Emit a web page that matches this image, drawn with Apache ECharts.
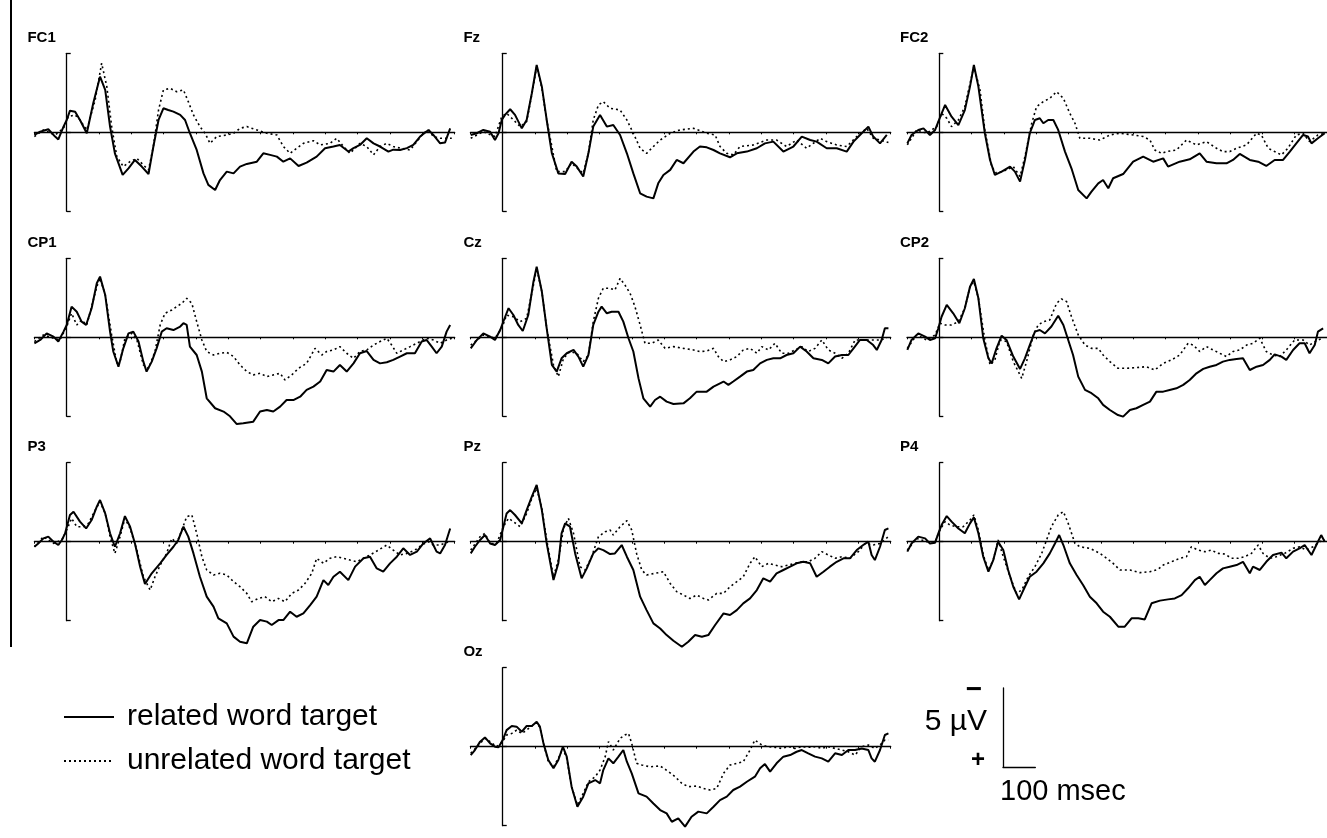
<!DOCTYPE html>
<html>
<head>
<meta charset="utf-8">
<title>ERP waveforms</title>
<script src="https://cdn.jsdelivr.net/npm/echarts@6/dist/echarts.min.js"></script>
<style>
  html, body { margin: 0; padding: 0; background: #fff; }
  #chart { width: 1327px; height: 838px; }
</style>
</head>
<body>
<div id="chart"></div>
<script>
// time in ms, amplitude in µV (negative plotted up)
const TIME_MIN = -100
const TIME_MAX = 1200
const TIME_TICK = 100
const UV_LIMIT = 5

const channels = ['FC1', 'Fz', 'FC2', 'CP1', 'Cz', 'CP2', 'P3', 'Pz', 'P4', 'Oz']
const conditions = ['related word target', 'unrelated word target']

const fc1Related = [[-100,0.17],[-82,-0.04],[-57,-0.19],[-36,0.27],[-26,0.45],[-10,-0.36],[0,-0.78],[10,-1.37],[26,-1.3],[41,-0.78],[62,0.06],[82,-1.84],[103,-3.52],[108,-3.63],[119,-2.68],[134,-0.36],[149,1.33],[173,2.7],[191,2.28],[211,1.75],[232,2.17],[253,2.64],[268,0.9],[284,-0.78],[299,-1.52],[314,-1.41],[330,-1.31],[351,-1.1],[366,-0.78],[381,0.06],[402,1.12],[423,2.6],[438,3.33],[459,3.65],[474,3.02],[495,2.49],[516,2.6],[536,2.17],[557,2.0],[588,1.86],[608,1.33],[629,1.43],[650,1.54],[670,1.86],[691,1.65],[717,2.13],[742,1.92],[773,1.54],[799,1.01],[825,0.9],[845,0.8],[871,1.22],[887,1.0],[907,0.8],[928,0.38],[949,0.7],[969,0.9],[995,1.22],[1010,1.1],[1031,1.12],[1052,1.0],[1072,0.8],[1093,0.27],[1119,-0.15],[1134,0.17],[1155,0.7],[1170,0.65],[1186,-0.25]]
const fc1Unrelated = [[-100,0.27],[-72,-0.15],[-36,0.17],[-10,-0.25],[5,-1.0],[26,-1.1],[41,-0.78],[62,-0.15],[88,-2.05],[108,-4.37],[124,-2.89],[139,-0.36],[155,1.54],[175,2.17],[196,1.85],[217,1.65],[237,2.07],[253,2.38],[268,0.9],[284,-1.41],[299,-2.68],[320,-2.78],[340,-2.57],[361,-2.68],[376,-1.94],[392,-1.1],[412,-0.36],[428,0.06],[443,0.7],[464,0.27],[495,0.17],[516,0.06],[536,-0.25],[557,-0.36],[588,-0.15],[619,0.06],[650,0.17],[670,0.9],[691,1.33],[711,1.01],[732,0.7],[763,0.53],[784,0.8],[814,0.7],[835,0.38],[856,0.9],[876,1.33],[907,0.7],[928,0.9],[949,1.43],[969,0.9],[990,0.7],[1010,0.9],[1031,1.0],[1062,1.12],[1083,0.59],[1103,0.06],[1119,-0.15],[1134,0.27],[1155,0.38],[1175,0.38],[1191,0.38]]

const fzRelated = [[-99,0.17],[-80,0.06],[-60,-0.15],[-39,-0.04],[-24,0.49],[-13,0.06],[-3,-0.78],[7,-1.1],[23,-1.46],[38,-1.1],[59,-0.25],[74,-0.78],[90,-2.47],[105,-4.26],[121,-2.89],[136,-0.78],[152,1.33],[172,2.6],[193,2.64],[213,1.86],[229,2.17],[249,2.8],[265,1.33],[280,-0.36],[301,-1.1],[322,-0.36],[342,-0.46],[363,0.17],[384,1.33],[404,2.6],[425,3.86],[445,4.07],[466,4.18],[481,3.23],[497,2.7],[518,2.38],[538,1.75],[559,1.96],[590,1.22],[610,0.9],[631,0.95],[652,1.12],[672,1.33],[703,1.58],[724,1.33],[755,1.22],[786,1.01],[811,0.7],[837,0.59],[868,1.22],[899,0.9],[925,0.27],[951,0.49],[971,0.59],[1002,1.01],[1033,1.01],[1064,1.22],[1085,0.59],[1105,0.17],[1131,-0.36],[1146,0.27],[1167,0.7],[1188,0.17]]
const fzUnrelated = [[-99,0.38],[-60,-0.04],[-24,0.27],[-3,-1.0],[12,-1.2],[28,-0.89],[54,-0.36],[74,-0.68],[90,-2.4],[105,-4.16],[121,-2.8],[136,-0.78],[167,2.49],[193,2.49],[213,1.96],[249,2.6],[265,1.33],[280,-0.78],[296,-1.73],[311,-1.94],[332,-1.52],[363,-1.41],[384,-0.78],[404,0.06],[425,1.01],[445,1.33],[466,0.9],[487,0.49],[518,0.06],[548,-0.15],[590,-0.25],[631,0.06],[657,0.17],[672,0.9],[693,1.33],[713,1.43],[734,0.9],[775,0.8],[817,0.49],[847,0.49],[878,0.9],[909,0.49],[940,1.01],[982,0.38],[1002,0.59],[1033,0.8],[1064,0.9],[1095,0.27],[1126,-0.25],[1146,0.38],[1167,0.49],[1193,0.65]]

const fc2Related = [[-99,0.7],[-86,0.17],[-65,-0.15],[-49,-0.25],[-29,0.17],[-13,-0.15],[-3,-0.68],[18,-1.73],[38,-0.99],[59,-0.46],[79,-1.41],[95,-2.89],[107,-4.26],[121,-2.89],[141,0.06],[157,1.75],[172,2.7],[193,2.49],[219,2.17],[234,2.49],[250,3.12],[265,1.75],[280,0.06],[296,-0.78],[311,-0.89],[322,-0.57],[337,-0.78],[353,-0.78],[368,-0.15],[389,1.22],[409,2.28],[430,3.65],[456,4.18],[471,3.76],[492,3.23],[507,3.02],[523,3.54],[538,2.91],[569,2.64],[600,1.86],[631,1.54],[662,1.86],[693,1.65],[708,2.17],[744,1.86],[775,1.71],[806,1.33],[827,1.86],[858,1.96],[889,1.96],[909,1.75],[930,1.37],[961,1.75],[987,1.86],[1012,2.13],[1038,1.75],[1064,1.75],[1085,1.22],[1105,0.7],[1126,0.17],[1141,0.27],[1152,0.7],[1172,0.38],[1193,0.06]]
const fc2Unrelated = [[-99,0.8],[-70,-0.15],[-39,0.06],[-8,-0.36],[7,-1.2],[23,-0.89],[38,-0.36],[59,-0.78],[79,-1.62],[107,-4.16],[126,-2.68],[141,-0.15],[162,2.17],[177,2.6],[208,2.38],[229,2.17],[250,2.8],[265,1.54],[286,-0.57],[301,-1.62],[322,-1.94],[342,-2.15],[363,-2.57],[384,-2.15],[404,-1.2],[420,-0.57],[435,0.38],[466,0.38],[497,0.49],[528,0.17],[559,0.06],[600,0.17],[631,0.27],[652,0.49],[667,1.12],[688,1.33],[703,1.22],[734,1.12],[765,0.49],[796,0.8],[827,0.59],[858,1.01],[878,1.22],[899,1.22],[920,1.01],[951,0.8],[982,0.06],[997,0.17],[1018,1.01],[1038,1.22],[1059,1.43],[1079,1.01],[1105,0.17],[1126,0.06],[1146,0.59],[1172,0.17],[1193,0.06]]

const cp1Related = [[-100,0.38],[-82,0.17],[-62,-0.25],[-41,-0.04],[-26,0.27],[-10,-0.36],[0,-0.78],[15,-1.94],[31,-1.62],[46,-0.99],[60,-0.78],[77,-1.84],[93,-3.42],[103,-3.84],[119,-2.68],[134,-0.36],[144,0.9],[160,1.86],[175,0.7],[191,-0.25],[206,-0.36],[222,0.27],[237,1.54],[247,2.17],[263,1.54],[278,0.7],[294,-0.36],[309,-0.57],[330,-0.46],[351,-0.68],[361,-0.89],[371,-0.78],[381,0.59],[402,1.12],[418,2.17],[433,3.86],[459,4.49],[485,4.7],[505,5.0],[526,5.49],[546,5.44],[577,5.34],[598,4.7],[619,4.6],[639,4.7],[660,4.39],[680,3.97],[701,3.97],[722,3.76],[742,3.33],[763,3.12],[784,2.8],[804,2.07],[825,2.17],[845,1.75],[866,2.17],[887,1.65],[907,1.01],[928,0.87],[949,1.43],[969,1.65],[990,1.58],[1010,1.43],[1031,1.22],[1052,1.01],[1077,1.01],[1098,0.27],[1113,0.17],[1129,0.59],[1144,1.01],[1160,0.59],[1175,-0.36],[1186,-0.78]]
const cp1Unrelated = [[-100,0.27],[-72,-0.15],[-41,0.06],[-21,0.17],[0,-0.68],[15,-1.52],[31,-0.78],[46,-1.1],[62,-0.78],[93,-3.2],[103,-3.74],[119,-2.68],[139,-0.15],[155,1.65],[165,1.54],[180,0.06],[201,-0.25],[217,0.17],[237,1.75],[253,1.96],[273,0.9],[289,-0.78],[304,-1.52],[325,-1.73],[340,-1.94],[356,-2.15],[371,-2.47],[387,-2.15],[402,-0.99],[418,0.17],[433,0.9],[454,1.12],[474,1.01],[495,0.95],[516,1.22],[536,1.75],[557,2.17],[577,2.38],[598,2.28],[619,2.49],[639,2.38],[660,2.28],[675,2.7],[696,2.38],[717,1.96],[742,1.65],[768,0.7],[789,1.12],[804,0.9],[825,0.8],[845,0.59],[866,1.01],[887,1.33],[907,0.9],[928,0.8],[949,0.49],[969,0.27],[990,0.06],[1005,0.49],[1021,1.01],[1041,0.8],[1062,0.59],[1093,0.27],[1113,0.06],[1134,0.17],[1155,0.38],[1175,0.17],[1191,0.06]]

const czRelated = [[-99,0.7],[-80,0.17],[-60,-0.25],[-39,-0.04],[-24,0.17],[-8,-0.46],[2,-1.0],[18,-1.84],[33,-1.41],[48,-0.78],[62,-0.4],[79,-1.41],[95,-3.52],[105,-4.47],[121,-2.89],[136,-0.57],[152,1.75],[167,2.17],[182,1.33],[198,1.01],[219,0.8],[234,1.22],[249,1.86],[265,1.12],[280,-0.78],[296,-1.62],[306,-1.94],[322,-1.52],[337,-1.62],[358,-1.62],[373,-0.99],[389,0.06],[404,0.9],[420,2.6],[435,3.86],[456,4.39],[471,3.97],[487,3.76],[507,4.07],[528,4.22],[559,4.18],[579,3.86],[600,3.44],[631,3.44],[652,3.12],[683,2.8],[698,3.01],[713,2.8],[734,2.49],[755,2.17],[775,2.07],[796,1.65],[817,1.43],[837,1.33],[858,1.33],[878,1.12],[899,1.01],[920,0.59],[940,0.9],[961,1.33],[987,1.43],[1007,1.65],[1028,1.22],[1049,1.12],[1069,1.12],[1085,0.7],[1105,0.17],[1126,0.17],[1146,0.49],[1157,0.8],[1172,0.17],[1182,-0.57],[1193,-0.57]]
const czUnrelated = [[-99,0.49],[-60,-0.15],[-24,0.06],[-3,-0.57],[12,-1.41],[33,-1.3],[54,-0.99],[74,-1.2],[95,-3.31],[105,-4.37],[121,-2.89],[136,-0.57],[157,1.75],[172,2.49],[188,1.33],[208,0.9],[229,1.01],[249,1.54],[265,1.12],[280,-0.99],[296,-2.47],[311,-3.1],[332,-3.1],[347,-2.99],[363,-3.73],[378,-3.31],[394,-2.78],[409,-1.94],[425,-0.78],[440,0.38],[461,0.38],[481,0.17],[502,0.7],[528,0.59],[559,0.7],[590,0.8],[610,0.9],[631,0.87],[652,0.7],[667,1.22],[683,1.54],[703,1.43],[724,1.22],[744,0.8],[765,0.7],[786,1.01],[801,0.59],[822,0.8],[842,0.38],[863,1.01],[884,1.01],[904,0.8],[925,0.59],[945,0.9],[966,0.7],[987,0.17],[1007,0.8],[1028,1.01],[1049,1.33],[1069,1.01],[1090,0.17],[1121,0.17],[1146,0.17],[1167,0.17],[1188,0.06]]

const cp2Related = [[-99,0.8],[-86,0.17],[-65,-0.25],[-44,-0.04],[-29,0.17],[-13,0.06],[-3,-0.57],[7,-1.3],[23,-2.05],[43,-1.52],[62,-0.89],[79,-1.84],[95,-3.2],[107,-3.69],[121,-2.47],[136,0.06],[152,1.33],[162,1.65],[177,0.7],[193,-0.1],[208,0.17],[229,1.22],[250,2.0],[265,1.33],[280,0.49],[296,-0.36],[311,-0.46],[327,-0.25],[347,-0.68],[368,-1.37],[384,-0.78],[399,0.17],[414,1.12],[430,2.49],[451,3.33],[471,3.54],[492,3.86],[507,4.28],[528,4.6],[553,4.92],[569,5.02],[590,4.6],[610,4.49],[631,4.28],[652,4.07],[672,3.44],[693,3.44],[713,3.33],[734,3.23],[755,3.01],[775,2.7],[796,2.28],[817,2.0],[837,1.86],[858,1.75],[878,1.54],[899,1.43],[920,1.37],[940,1.33],[961,2.07],[982,1.86],[1002,1.75],[1023,1.43],[1038,1.08],[1059,1.22],[1074,1.43],[1095,0.8],[1115,0.38],[1131,0.38],[1146,1.01],[1162,0.49],[1172,-0.36],[1188,-0.57]]
const cp2Unrelated = [[-99,0.7],[-70,-0.15],[-39,0.17],[-13,-0.15],[2,-0.89],[18,-0.78],[38,-0.78],[59,-0.99],[79,-1.84],[95,-3.2],[107,-3.52],[121,-2.47],[141,0.17],[157,1.75],[172,1.43],[188,0.17],[208,0.27],[229,1.54],[255,2.6],[270,1.54],[291,-0.15],[306,-0.78],[322,-0.99],[342,-1.1],[363,-2.15],[378,-2.43],[394,-2.26],[409,-1.31],[430,-0.15],[451,0.49],[471,0.7],[492,0.7],[507,1.12],[528,1.54],[553,1.96],[579,1.96],[610,1.92],[641,1.86],[667,2.07],[693,1.65],[719,1.43],[744,1.12],[770,0.38],[786,0.49],[806,0.9],[827,0.59],[847,0.8],[868,1.01],[889,1.22],[909,0.9],[930,0.8],[951,0.49],[971,0.38],[992,0.06],[1012,0.9],[1033,1.12],[1054,1.22],[1074,0.8],[1100,0.17],[1126,0.17],[1146,0.49],[1172,0.17],[1188,0.06]]

const p3Related = [[-100,0.32],[-88,0.11],[-72,-0.21],[-57,-0.32],[-41,0.0],[-26,0.21],[-15,-0.11],[-5,-0.53],[10,-1.69],[21,-1.9],[41,-1.27],[60,-0.84],[77,-1.37],[93,-2.22],[103,-2.64],[119,-1.79],[134,-0.53],[149,0.32],[165,-0.53],[180,-1.62],[196,-0.95],[211,0.11],[227,1.58],[242,2.68],[263,2.0],[289,1.37],[309,0.84],[330,0.32],[345,-0.11],[361,-0.95],[376,-0.32],[392,0.74],[412,2.22],[433,3.48],[454,4.11],[469,4.85],[495,5.17],[516,6.01],[536,6.33],[557,6.43],[577,5.38],[598,4.96],[619,5.06],[634,5.27],[655,4.96],[670,4.96],[691,4.43],[711,4.75],[732,4.54],[753,4.01],[773,3.48],[794,2.43],[809,2.74],[825,2.22],[845,1.9],[871,2.43],[892,1.58],[918,1.05],[938,0.95],[959,1.69],[979,1.9],[1000,1.37],[1021,0.95],[1041,0.42],[1062,0.84],[1083,0.63],[1103,0.11],[1124,-0.21],[1134,0.21],[1144,0.63],[1155,0.74],[1170,0.21],[1186,-0.84]]
const p3Unrelated = [[-100,0.32],[-72,-0.32],[-41,0.11],[-15,-0.11],[0,-0.74],[15,-1.48],[31,-0.95],[52,-0.95],[67,-1.16],[88,-2.0],[103,-2.53],[119,-1.79],[134,-0.32],[149,0.74],[165,-0.32],[180,-1.48],[196,-0.84],[217,0.53],[237,2.22],[258,3.06],[273,2.22],[289,1.48],[309,0.74],[325,-0.21],[340,0.11],[356,-0.74],[371,-1.58],[387,-1.69],[402,-0.53],[418,0.95],[433,1.79],[454,2.11],[474,2.0],[495,2.11],[516,2.53],[536,2.85],[557,3.27],[572,3.8],[593,3.59],[613,3.48],[634,3.8],[655,3.59],[675,3.8],[696,3.27],[717,3.06],[737,2.64],[758,2.0],[773,1.05],[794,1.37],[814,1.05],[835,0.95],[856,1.05],[876,1.16],[897,1.27],[918,1.05],[938,0.84],[964,0.53],[990,0.21],[1010,0.53],[1031,0.84],[1052,0.74],[1077,0.53],[1098,0.21],[1119,0.0],[1134,0.21],[1155,0.21],[1181,0.0]]

const pzRelated = [[-99,0.74],[-86,0.32],[-70,-0.11],[-55,-0.42],[-39,0.11],[-24,0.21],[-8,-0.11],[2,-0.95],[12,-1.79],[23,-2.0],[38,-1.69],[59,-1.16],[74,-2.0],[90,-2.85],[105,-3.59],[121,-2.0],[136,0.11],[157,2.43],[172,1.37],[182,-0.53],[193,-1.16],[208,-0.95],[224,0.74],[244,2.32],[260,1.69],[280,0.74],[296,0.42],[311,0.53],[332,0.78],[347,0.74],[368,0.21],[384,0.95],[404,1.79],[425,3.48],[445,4.33],[466,5.17],[487,5.49],[507,5.91],[528,6.27],[554,6.65],[574,6.33],[595,5.91],[616,6.01],[636,5.91],[657,5.27],[683,4.54],[703,4.64],[724,4.33],[744,3.9],[765,3.59],[786,3.06],[806,2.32],[827,2.53],[847,2.0],[868,1.79],[889,1.58],[909,1.37],[930,1.27],[951,1.37],[971,2.22],[992,1.9],[1012,1.58],[1033,1.27],[1054,1.05],[1074,1.05],[1095,0.53],[1115,0.21],[1131,0.0],[1141,0.84],[1151,1.16],[1167,0.32],[1182,-0.74],[1193,-0.84]]
const pzUnrelated = [[-99,0.53],[-70,-0.32],[-55,-0.53],[-39,0.11],[-19,0.11],[2,-0.95],[18,-1.48],[33,-1.27],[54,-0.95],[74,-1.79],[90,-2.74],[105,-3.38],[121,-2.11],[136,-0.11],[157,2.22],[172,1.16],[188,-0.84],[203,-1.48],[219,-0.53],[239,1.58],[255,1.79],[275,0.95],[296,-0.32],[317,-0.63],[332,-0.74],[342,-0.42],[363,-0.95],[384,-1.33],[399,-0.74],[414,0.74],[430,1.79],[445,2.11],[471,2.0],[497,1.9],[518,2.64],[538,3.16],[559,3.38],[579,3.59],[600,3.38],[621,3.59],[636,3.69],[662,3.27],[683,3.27],[703,2.85],[724,2.53],[744,2.22],[765,1.37],[780,0.95],[801,1.58],[822,1.37],[842,1.48],[863,1.58],[884,1.48],[904,1.37],[925,1.27],[945,1.27],[966,1.05],[987,0.63],[1007,0.84],[1028,1.05],[1049,0.95],[1074,1.05],[1100,0.63],[1121,0.11],[1146,0.21],[1167,0.11],[1193,-0.32]]

const p4Related = [[-99,0.63],[-86,0.11],[-65,-0.32],[-44,-0.21],[-29,0.11],[-13,0.06],[-3,-0.53],[7,-1.05],[23,-1.62],[38,-1.27],[59,-0.84],[79,-0.53],[95,-1.16],[107,-1.54],[121,-0.53],[136,0.95],[152,1.9],[167,1.16],[182,0.0],[188,-0.11],[198,0.53],[213,1.79],[229,2.85],[247,3.65],[265,2.85],[280,2.22],[301,1.9],[322,1.37],[342,0.74],[358,0.11],[371,-0.42],[384,0.21],[404,1.37],[425,2.11],[445,2.74],[466,3.48],[487,3.9],[507,4.43],[528,4.75],[554,5.38],[574,5.38],[595,4.85],[616,4.85],[636,4.92],[657,3.9],[683,3.73],[708,3.65],[729,3.59],[750,3.38],[770,2.95],[791,2.43],[806,2.22],[822,2.74],[837,2.43],[858,2.0],[878,1.69],[899,1.58],[920,1.48],[940,1.27],[961,2.0],[971,1.58],[992,1.79],[1012,1.27],[1033,0.84],[1059,0.69],[1074,1.05],[1095,0.63],[1115,0.42],[1131,0.21],[1152,0.84],[1167,0.21],[1182,-0.42],[1193,0.0]]
const p4Unrelated = [[-99,0.53],[-70,-0.21],[-39,0.0],[-13,0.0],[2,-0.74],[18,-1.27],[33,-1.05],[54,-0.95],[74,-0.95],[95,-1.37],[107,-1.69],[121,-0.74],[136,0.84],[152,1.79],[167,1.16],[182,-0.11],[198,0.95],[219,2.22],[239,3.27],[255,3.06],[275,2.22],[296,1.58],[317,0.74],[332,-0.11],[347,-0.95],[368,-1.69],[384,-1.9],[399,-1.16],[420,0.11],[435,0.32],[466,0.42],[497,0.74],[518,1.05],[538,1.37],[559,1.79],[590,1.79],[621,1.96],[652,1.9],[677,1.75],[693,1.48],[719,1.27],[744,1.05],[765,0.95],[780,0.32],[801,0.53],[822,0.63],[842,0.53],[863,0.74],[884,0.78],[904,1.05],[925,1.05],[945,0.95],[966,0.74],[987,0.21],[1002,0.74],[1023,1.05],[1043,0.95],[1069,0.74],[1095,0.42],[1115,0.32],[1136,0.53],[1157,0.32],[1177,0.0],[1193,-0.11]]

const ozRelated = [[-99,0.53],[-86,0.21],[-70,-0.32],[-55,-0.59],[-39,-0.21],[-24,0.0],[-13,0.04],[0,-0.42],[12,-1.05],[28,-1.31],[43,-1.27],[59,-0.95],[74,-1.31],[90,-1.31],[105,-1.58],[115,-1.27],[126,-0.21],[141,0.84],[157,1.37],[172,0.84],[186,0.0],[198,0.63],[213,2.53],[231,3.8],[249,3.16],[265,2.32],[286,2.11],[301,2.32],[311,1.48],[327,0.74],[342,1.05],[358,0.63],[373,0.21],[384,0.95],[399,1.69],[420,2.95],[445,3.16],[466,3.59],[487,4.01],[507,4.22],[523,4.75],[543,4.54],[564,5.06],[584,4.43],[605,4.11],[631,4.22],[652,3.8],[672,3.38],[693,3.16],[713,2.74],[734,2.53],[755,2.22],[780,1.9],[796,1.37],[811,1.1],[827,1.58],[847,1.05],[868,0.63],[889,0.53],[909,0.32],[925,0.21],[945,0.42],[966,0.63],[987,0.74],[1007,0.95],[1028,0.42],[1049,0.53],[1069,0.21],[1090,0.21],[1110,0.11],[1131,0.21],[1141,0.74],[1151,0.95],[1167,0.21],[1182,-0.74],[1193,-0.84]]
const ozUnrelated = [[-99,0.42],[-70,-0.21],[-55,-0.53],[-39,-0.32],[-19,0.0],[0,-0.32],[12,-0.74],[28,-0.84],[43,-1.05],[59,-0.84],[74,-1.05],[90,-1.31],[105,-1.52],[115,-1.22],[126,-0.21],[141,0.95],[157,1.27],[172,0.74],[186,0.11],[198,0.74],[213,2.53],[231,3.69],[249,2.95],[265,2.22],[286,1.9],[301,1.48],[317,0.63],[327,-0.32],[342,0.21],[363,-0.53],[378,-0.74],[389,-0.84],[399,-0.21],[414,1.05],[430,1.16],[456,1.27],[487,1.22],[513,1.58],[533,1.9],[554,2.32],[574,2.53],[600,2.49],[621,2.64],[641,2.74],[662,2.64],[683,1.69],[703,1.16],[724,1.05],[744,0.95],[765,0.21],[780,-0.42],[801,-0.11],[822,0.0],[842,0.04],[863,0.11],[884,0.0],[904,0.11],[925,0.0],[945,0.04],[966,0.0],[987,0.11],[1007,0.0],[1028,0.11],[1049,0.21],[1069,0.32],[1090,0.53],[1110,0.0],[1131,-0.11],[1151,0.11],[1167,-0.11],[1182,-0.42],[1193,-0.42]]

const relatedData = [fc1Related, fzRelated, fc2Related, cp1Related, czRelated, cp2Related, p3Related, pzRelated, p4Related, ozRelated]
const unrelatedData = [fc1Unrelated, fzUnrelated, fc2Unrelated, cp1Unrelated, czUnrelated, cp2Unrelated, p3Unrelated, pzUnrelated, p4Unrelated, ozUnrelated]

// layout: [column, row] of each channel's panel
const panelCell = [[0, 0], [1, 0], [2, 0], [0, 1], [1, 1], [2, 1], [0, 2], [1, 2], [2, 2], [1, 3]]
const columnLeft = [34.4, 470.4, 907]
const rowBaseline = [132.3, 337.3, 541.7, 746.7]
const PX_PER_MS = 0.3233
const PX_PER_UV = 15.8
const FONT = 'Liberation Sans, Arial, sans-serif'

const chart = echarts.init(document.getElementById('chart'), null, { renderer: 'canvas' })

const grids = []
const xAxes = []
const yAxes = []
const series = []
const graphics = []

const axisLineStyle = { color: '#000', width: 1.3 }

channels.forEach((name, i) => {
  const [col, row] = panelCell[i]
  const left = columnLeft[col]
  const baseline = rowBaseline[row]
  grids.push({
    left: left,
    top: baseline - UV_LIMIT * PX_PER_UV,
    width: (TIME_MAX - TIME_MIN) * PX_PER_MS,
    height: 2 * UV_LIMIT * PX_PER_UV,
  })
  xAxes.push({
    gridIndex: i,
    type: 'value',
    min: TIME_MIN,
    max: TIME_MAX,
    interval: TIME_TICK,
    axisLine: { show: true, onZero: true, lineStyle: axisLineStyle },
    axisTick: { show: true, length: 2, lineStyle: { color: '#000', width: 1 } },
    axisLabel: { show: false },
    splitLine: { show: false },
  })
  yAxes.push({
    gridIndex: i,
    type: 'value',
    inverse: true,
    min: -UV_LIMIT,
    max: UV_LIMIT,
    interval: UV_LIMIT,
    axisLine: { show: true, onZero: true, lineStyle: axisLineStyle },
    axisTick: { show: true, inside: true, length: 4, lineStyle: { color: '#000', width: 1.3 } },
    axisLabel: { show: false },
    splitLine: { show: false },
  })
  series.push({
    type: 'line',
    name: conditions[1],
    xAxisIndex: i,
    yAxisIndex: i,
    data: unrelatedData[i],
    symbol: 'none',
    clip: false,
    z: 2,
    itemStyle: { color: '#000' },
    lineStyle: { color: '#000', width: 1.6, type: [2, 3] },
  })
  series.push({
    type: 'line',
    name: conditions[0],
    xAxisIndex: i,
    yAxisIndex: i,
    data: relatedData[i],
    symbol: 'none',
    clip: false,
    z: 3,
    itemStyle: { color: '#000' },
    lineStyle: { color: '#000', width: 2 },
  })
  graphics.push({
    type: 'text',
    left: left - 7,
    top: baseline - 102,
    style: { text: name, font: 'bold 15px ' + FONT, fill: '#000' },
  })
})

// calibration bar: 100 ms by 5 µV
const scaleIndex = channels.length
grids.push({ left: 1003, top: 688, width: TIME_TICK * PX_PER_MS, height: UV_LIMIT * PX_PER_UV })
xAxes.push({
  gridIndex: scaleIndex, type: 'value', min: 0, max: TIME_TICK,
  axisLine: { show: true, onZero: false, lineStyle: axisLineStyle },
  axisTick: { show: false }, axisLabel: { show: false }, splitLine: { show: false },
})
yAxes.push({
  gridIndex: scaleIndex, type: 'value', min: 0, max: UV_LIMIT,
  axisLine: { show: true, onZero: false, lineStyle: axisLineStyle },
  axisTick: { show: false }, axisLabel: { show: false }, splitLine: { show: false },
})

graphics.push(
  { type: 'text', x: 987, y: 722, style: { text: '5 µV', font: '30px ' + FONT, fill: '#000', align: 'right', verticalAlign: 'middle' } },
  { type: 'text', x: 974, y: 690, style: { text: '\u2212', font: 'bold 28px ' + FONT, fill: '#000', align: 'center', verticalAlign: 'middle' } },
  { type: 'text', x: 978, y: 760, style: { text: '+', font: 'bold 24px ' + FONT, fill: '#000', align: 'center', verticalAlign: 'middle' } },
  { type: 'text', x: 1000, y: 792, style: { text: '100 msec', font: '29px ' + FONT, fill: '#000', align: 'left', verticalAlign: 'middle' } },
  { type: 'line', shape: { x1: 11, y1: 0, x2: 11, y2: 647 }, style: { stroke: '#000', lineWidth: 2 } }
)

chart.setOption({
  animation: false,
  backgroundColor: '#fff',
  grid: grids,
  xAxis: xAxes,
  yAxis: yAxes,
  legend: {
    data: conditions,
    orient: 'vertical',
    left: 58,
    top: 697,
    itemWidth: 50,
    itemHeight: 14,
    itemGap: 14,
    itemStyle: { opacity: 0 },
    textStyle: { fontFamily: FONT, fontSize: 30, color: '#000', padding: [0, 0, 0, 8] },
  },
  series: series,
  graphic: graphics,
})

window.addEventListener('resize', () => chart.resize())
</script>
</body>
</html>
